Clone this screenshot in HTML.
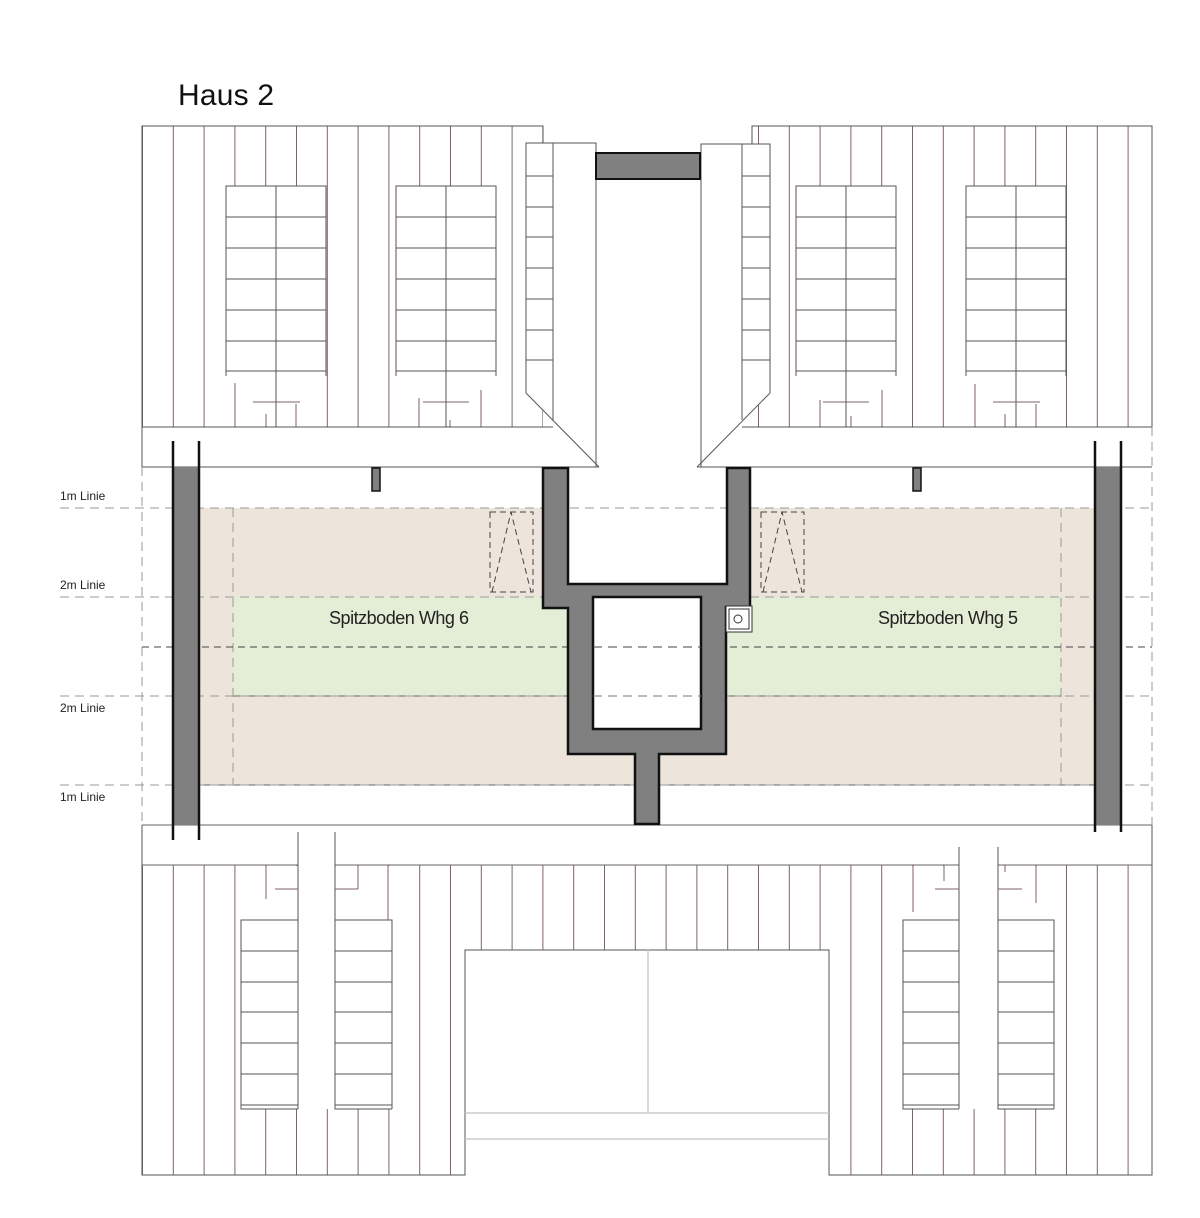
<!DOCTYPE html>
<html><head><meta charset="utf-8"><style>
html,body{margin:0;padding:0;background:#fff;}
svg{display:block;}
text{font-family:"Liberation Sans",sans-serif;}
</style></head><body>
<svg width="1200" height="1218" viewBox="0 0 1200 1218" xmlns="http://www.w3.org/2000/svg">
<defs>
<pattern id="raf" x="142" y="0" width="30.8" height="10" patternUnits="userSpaceOnUse">
<line x1="0.5" y1="0" x2="0.5" y2="10" stroke="#7d6268" stroke-width="1"/>
</pattern>
</defs>
<rect width="1200" height="1218" fill="#fff"/>
<text x="178" y="105" font-size="30" fill="#111" textLength="96">Haus 2</text>

<!-- TOP ROOF -->
<rect x="142" y="126" width="401" height="301" fill="url(#raf)"/>
<rect x="752" y="126" width="400" height="301" fill="url(#raf)"/>
<g stroke="#555" fill="none" stroke-width="1">
<polyline points="543,143 543,126 142,126 142,467"/>
<polyline points="752,144 752,126 1152,126 1152,427"/>
</g>
<!-- left dormer -->
<polygon points="526,143 596,143 596,467 599,467 526,393" fill="#fff"/>
<g stroke="#555" fill="none" stroke-width="1">
<polyline points="526,393 526,143 596,143 596,467"/>
<line x1="553" y1="143" x2="553" y2="420"/>
<line x1="526" y1="393" x2="599" y2="467"/>
<line x1="526" y1="176" x2="553" y2="176"/><line x1="526" y1="207" x2="553" y2="207"/>
<line x1="526" y1="237" x2="553" y2="237"/><line x1="526" y1="268" x2="553" y2="268"/>
<line x1="526" y1="299" x2="553" y2="299"/><line x1="526" y1="330" x2="553" y2="330"/>
<line x1="526" y1="360" x2="553" y2="360"/>
</g>
<!-- right dormer -->
<polygon points="701,144 770,144 770,393 697,467 701,467" fill="#fff"/>
<g stroke="#555" fill="none" stroke-width="1">
<polyline points="701,467 701,144 770,144 770,393"/>
<line x1="742" y1="144" x2="742" y2="420"/>
<line x1="770" y1="393" x2="697" y2="467"/>
<line x1="742" y1="176" x2="770" y2="176"/><line x1="742" y1="207" x2="770" y2="207"/>
<line x1="742" y1="237" x2="770" y2="237"/><line x1="742" y1="268" x2="770" y2="268"/>
<line x1="742" y1="299" x2="770" y2="299"/><line x1="742" y1="330" x2="770" y2="330"/>
<line x1="742" y1="360" x2="770" y2="360"/>
</g>
<rect x="596" y="153" width="104" height="26" fill="#808080" stroke="#111" stroke-width="2"/>

<!-- top windows -->
<g fill="#fff" stroke="none">
<rect x="226" y="186" width="100" height="241"/><rect x="396" y="186" width="100" height="241"/>
<rect x="796" y="186" width="100" height="241"/><rect x="966" y="186" width="100" height="241"/>
</g>
<g stroke="#555" fill="none" stroke-width="1">
<g id="w1">
<polyline points="226,376 226,186 326,186 326,376"/>
<line x1="276" y1="186" x2="276" y2="427"/>
<line x1="226" y1="217" x2="326" y2="217"/><line x1="226" y1="248" x2="326" y2="248"/>
<line x1="226" y1="279" x2="326" y2="279"/><line x1="226" y1="310" x2="326" y2="310"/>
<line x1="226" y1="341" x2="326" y2="341"/><line x1="226" y1="371" x2="326" y2="371"/>
</g>
<use href="#w1" x="170"/><use href="#w1" x="570"/><use href="#w1" x="740"/>
</g>
<g stroke="#7d6268" stroke-width="1">
<line x1="235" y1="383" x2="235" y2="427"/><line x1="266" y1="414" x2="266" y2="427"/>
<line x1="296" y1="404" x2="296" y2="427"/><line x1="253" y1="402" x2="300" y2="402"/>
<line x1="419" y1="398" x2="419" y2="427"/><line x1="450" y1="420" x2="450" y2="427"/>
<line x1="481" y1="390" x2="481" y2="427"/><line x1="423" y1="402" x2="469" y2="402"/>
<line x1="820" y1="400" x2="820" y2="427"/><line x1="851" y1="416" x2="851" y2="427"/>
<line x1="882" y1="390" x2="882" y2="427"/><line x1="823" y1="402" x2="869" y2="402"/>
<line x1="975" y1="384" x2="975" y2="427"/><line x1="1005" y1="414" x2="1005" y2="427"/>
<line x1="1036" y1="404" x2="1036" y2="427"/><line x1="993" y1="402" x2="1040" y2="402"/>
</g>
<!-- top band -->
<g stroke="#555" stroke-width="1">
<line x1="142" y1="427" x2="553" y2="427"/><line x1="742" y1="427" x2="1152" y2="427"/>
<line x1="142" y1="467" x2="599" y2="467"/><line x1="697" y1="467" x2="1152" y2="467"/>
</g>

<!-- MIDDLE -->
<rect x="199" y="508" width="896" height="277" fill="#ede5dc"/>
<rect x="233" y="597" width="334" height="99" fill="#e4edd5"/>
<rect x="727" y="597" width="334" height="99" fill="#e4edd5"/>
<g stroke="#666" stroke-width="1">
<line x1="199" y1="785" x2="1095" y2="785"/>
<line x1="233" y1="696" x2="567" y2="696"/><line x1="727" y1="696" x2="1061" y2="696"/>
<line x1="142" y1="825" x2="1152" y2="825"/><line x1="142" y1="865" x2="1152" y2="865"/>
</g>
<rect x="568" y="468" width="159" height="116" fill="#fff"/>
<g stroke="#999" stroke-width="1" stroke-dasharray="9,6" fill="none">
<line x1="142" y1="467" x2="142" y2="825"/><line x1="1152" y1="427" x2="1152" y2="825"/>
<line x1="233" y1="508" x2="233" y2="785"/><line x1="1061" y1="508" x2="1061" y2="785"/>
<line x1="60" y1="508" x2="1152" y2="508"/><line x1="60" y1="597" x2="1152" y2="597"/>
<line x1="60" y1="696" x2="1152" y2="696"/><line x1="60" y1="785" x2="1152" y2="785"/>
</g>
<line x1="142" y1="647" x2="1152" y2="647" stroke="#444" stroke-dasharray="7,5"/>
<!-- skylight dashed -->
<g stroke="#444" stroke-width="1" stroke-dasharray="6,4" fill="none">
<rect x="490" y="512" width="43" height="80"/>
<polyline points="492,592 511,512 531,592"/>
<rect x="761" y="512" width="43" height="80"/>
<polyline points="763,592 782,512 802,592"/>
</g>
<!-- walls -->
<rect x="173" y="467" width="26" height="358" fill="#808080"/>
<rect x="1095" y="467" width="26" height="358" fill="#808080"/>
<g stroke="#111" stroke-width="2.5">
<line x1="173" y1="441" x2="173" y2="840"/><line x1="199" y1="441" x2="199" y2="840"/>
<line x1="1095" y1="441" x2="1095" y2="832"/><line x1="1121" y1="441" x2="1121" y2="832"/>
</g>
<rect x="372" y="468" width="8" height="23" fill="#808080" stroke="#111" stroke-width="1.5"/>
<rect x="913" y="468" width="8" height="23" fill="#808080" stroke="#111" stroke-width="1.5"/>
<!-- core -->
<polygon points="543,468 568,468 568,584 727,584 727,468 750,468 750,607 726,607 726,754 659,754 659,824 635,824 635,754 568,754 568,608 543,608" fill="#808080" stroke="#111" stroke-width="2.5"/>
<rect x="593" y="597" width="108" height="132" fill="#fff" stroke="#111" stroke-width="2.5"/>
<g stroke="#777" stroke-width="1" stroke-dasharray="9,6">
<line x1="593" y1="647" x2="701" y2="647" stroke="#444"/>
<line x1="593" y1="696" x2="701" y2="696"/>
</g>
<rect x="726" y="606" width="26" height="26" fill="#fff" stroke="#333" stroke-width="1"/>
<rect x="729" y="609" width="20" height="20" fill="none" stroke="#333" stroke-width="1"/>
<circle cx="738" cy="619" r="4" fill="none" stroke="#333"/>
<text x="329" y="624" font-size="18" fill="#222" textLength="140">Spitzboden Whg 6</text>
<text x="878" y="624" font-size="18" fill="#222" textLength="140">Spitzboden Whg 5</text>
<g font-size="12" fill="#222">
<text x="60" y="500">1m Linie</text><text x="60" y="589">2m Linie</text>
<text x="60" y="712">2m Linie</text><text x="60" y="801">1m Linie</text>
</g>

<!-- BOTTOM ROOF -->
<rect x="142" y="865" width="323" height="310" fill="url(#raf)"/>
<rect x="465" y="865" width="364" height="85" fill="url(#raf)"/>
<rect x="829" y="865" width="323" height="310" fill="url(#raf)"/>
<g stroke="#555" fill="none" stroke-width="1">
<polyline points="142,825 142,1175 465,1175 465,950 829,950 829,1175 1152,1175 1152,825"/>
</g>
<g stroke="#ccc" stroke-width="1.5">
<line x1="648" y1="950" x2="648" y2="1113"/>
<line x1="465" y1="1113" x2="829" y2="1113"/><line x1="465" y1="1139" x2="829" y2="1139"/>
</g>
<!-- bottom-left dormer -->
<rect x="241" y="866" width="151" height="243" fill="#fff"/>
<rect x="298" y="832" width="37" height="277" fill="#fff"/>
<g stroke="#555" fill="none" stroke-width="1">
<line x1="298" y1="832" x2="298" y2="1109"/><line x1="335" y1="832" x2="335" y2="1109"/>
<g id="bw">
<polyline points="298,920 241,920 241,1109 298,1109"/>
<line x1="241" y1="951" x2="298" y2="951"/><line x1="241" y1="982" x2="298" y2="982"/>
<line x1="241" y1="1012" x2="298" y2="1012"/><line x1="241" y1="1043" x2="298" y2="1043"/>
<line x1="241" y1="1074" x2="298" y2="1074"/><line x1="241" y1="1105" x2="298" y2="1105"/>
</g>
<use href="#bw" x="94"/>
<polyline points="335,920 392,920 392,1109"/>
<line x1="335" y1="1109" x2="392" y2="1109"/>
</g>
<g stroke="#7d6268" stroke-width="1">
<line x1="266" y1="865" x2="266" y2="899"/><line x1="275" y1="889" x2="298" y2="889"/>
<line x1="358" y1="865" x2="358" y2="889"/><line x1="335" y1="889" x2="358" y2="889"/>
<line x1="388" y1="865" x2="388" y2="920"/>
</g>
<!-- bottom-right dormer -->
<rect x="903" y="866" width="151" height="243" fill="#fff"/>
<rect x="959" y="847" width="39" height="262" fill="#fff"/>
<g stroke="#555" fill="none" stroke-width="1">
<line x1="959" y1="847" x2="959" y2="1109"/><line x1="998" y1="847" x2="998" y2="1109"/>
<g id="bw2">
<polyline points="959,920 903,920 903,1109 959,1109"/>
<line x1="903" y1="951" x2="959" y2="951"/><line x1="903" y1="982" x2="959" y2="982"/>
<line x1="903" y1="1012" x2="959" y2="1012"/><line x1="903" y1="1043" x2="959" y2="1043"/>
<line x1="903" y1="1074" x2="959" y2="1074"/><line x1="903" y1="1105" x2="959" y2="1105"/>
</g>
<use href="#bw2" x="95"/>
<polyline points="998,920 1054,920 1054,1109"/>
</g>
<g stroke="#7d6268" stroke-width="1">
<line x1="913" y1="865" x2="913" y2="912"/><line x1="944" y1="865" x2="944" y2="881"/>
<line x1="935" y1="889" x2="959" y2="889"/><line x1="1005" y1="865" x2="1005" y2="872"/>
<line x1="998" y1="889" x2="1022" y2="889"/><line x1="1036" y1="865" x2="1036" y2="903"/>
</g>
</svg>
</body></html>
